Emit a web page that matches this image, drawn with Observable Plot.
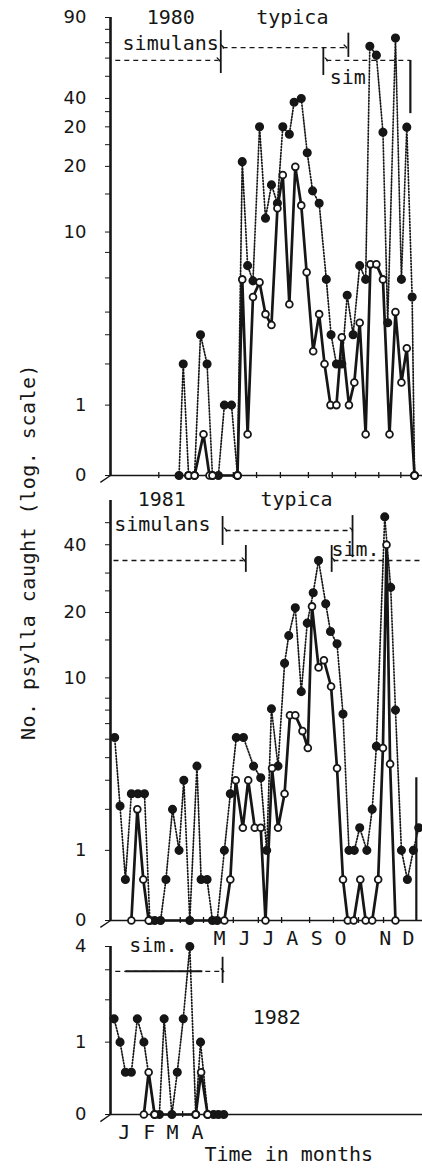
<!DOCTYPE html>
<html>
<head>
<meta charset="utf-8">
<script src="https://cdn.jsdelivr.net/npm/d3@7"></script>
<script src="https://cdn.jsdelivr.net/npm/@observablehq/plot@0.6"></script>
<style>
  html, body { margin: 0; padding: 0; background: #fff; }
  #wrap { position: relative; width: 422px; height: 1175px; overflow: hidden; background: #fff; }
  #wrap svg { position: absolute; left: 0; }
  #ytitle {
    position: absolute; left: 28px; top: 552px;
    transform: translate(-50%, -50%) rotate(-90deg);
    white-space: nowrap; font-family: "DejaVu Sans Mono", monospace;
    font-size: 20px; letter-spacing: 0.5px; color: #161616;
  }
</style>
</head>
<body>
<div id="wrap"><div id="ytitle">No. psylla caught (log. scale)</div></div>
<script>
// ---------------- DATA (weeks from start of year, psylla counts) ----------------
// 1980
const weeks80Filled = [11.5,12.2,13.1,14.1,15.1,16.2,17.1,18.1,19.1,20.3,21.3,22.1,23.0,23.9,25.0,26.0,27.0,28.0,28.9,30.0,30.8,32.0,33.0,33.9,35.0,36.2,37.0,37.9,38.8,39.7,40.7,41.8,42.8,43.5,44.6,45.7,46.5,47.8,48.8,49.7,50.6,51.0];
const vals80Filled  = [0,2,0,0,3,2,0,0,1,1,0,21,6.9,5.8,30,11.6,16.5,13.6,30,27.8,38.5,40,23,15.5,13.6,5.9,3,2,2,4.9,3,6.9,5.9,67.6,61.8,28.4,3.5,73.4,5.9,29.9,4.8,0];
const weeks80Open   = [13.1,14.1,15.6,16.6,17.1,21.3,22.1,23.0,23.9,25.0,26.0,27.0,28.0,28.9,30.0,31.0,32.0,32.9,34.0,35.0,35.9,36.9,37.9,38.8,40.0,40.9,41.8,42.8,43.6,44.6,45.7,46.8,47.8,48.8,49.7,51.0];
const vals80Open    = [0,0,0.5,0,0,0,5.9,0.5,4.8,5.7,3.9,3.4,12.9,18.3,4.4,19.9,13.3,6.4,2.4,3.9,2,1,1,2.9,1,1.5,3.5,0.5,7,7,5.9,0.5,4,1.5,2.5,0];
// 1981
const weeks81Filled = [0.7,1.6,2.5,3.5,4.6,5.7,6.6,7.4,8.4,9.3,10.4,11.5,12.3,13.3,14.5,15.2,16.2,17.1,17.9,19.1,20.1,21.1,22.3,24.0,25.2,26.2,27.0,28.1,29.2,29.9,31.0,32.0,33.0,34.0,34.9,36.1,36.9,38.0,39.0,40.0,40.9,41.8,43.0,43.9,44.6,46.0,47.0,47.8,48.8,49.8,50.8,51.7];
const vals81Filled  = [5.1,2.1,0.5,2.5,2.5,2.5,0,0,0,0.5,2,1,3,0,3.6,0.5,0.5,0,0,1,2.5,5.1,5.1,3.6,3.1,1,7.1,3.6,11.7,15.7,21,8.6,17.9,24.5,34.1,21.9,16.4,14.4,6.7,1,1,1.5,1,2,4.6,53,25.9,7,1,0.5,1,1.5];
const weeks81Open   = [3.5,4.5,5.5,6.4,19.1,20.1,21.0,22.2,23.1,24.2,25.2,26.0,27.1,28.1,29.2,30.1,31.0,32.2,33.1,33.8,34.9,35.8,37.0,38.0,39.0,39.8,40.8,41.9,42.8,43.9,44.9,45.7,46.3,46.9,47.8];
const vals81Open    = [0,2,0.5,0,0,0.5,3,1.5,3,1.5,1.5,0,3.5,1.5,2.5,6.6,6.6,5.5,4.5,21.3,11.2,12.1,9.1,3.5,0.5,0,0,0.5,0,0,0.5,4.5,40,3.7,0];
// 1982
const weeks82Filled = [0.6,1.6,2.5,3.5,4.5,5.6,7.4,8.2,9.0,10.3,11.2,12.2,13.3,14.3,15.1,16.3,17.3,18.1,19.0];
const vals82Filled  = [1.5,1,0.5,0.5,1.5,1,0,0,1.5,0,0.5,1.5,4,0,1,0,0,0,0];
const weeks82Open   = [5.6,6.4,7.4,14.3,15.2,16.3];
const vals82Open    = [0,0.5,0,0,0.5,0];

// ---------------- AXES / TICKS ----------------
const yTicks80 = [0,1,2,3,4,6,8,10,15,20,25,30,35,40,50,60,70,80,90];
const yLabelVals80 = [0,1,10,20,30,40,90];
const yLabelTxt80  = ["0","1","10","20","20","40","90"];
const yTicks81 = [0,1,2,3,4,5,6,7,8,10,15,20,25,30,40,50];
const yLabelVals81 = [0,1,10,20,40];
const yLabelTxt81  = ["0","1","10","20","40"];
const yTicks82 = [0,1,2,3,4];
const yLabelVals82 = [0,1,4];
const yLabelTxt82  = ["0","1","4"];
const xTicks80 = [8.1,12.6,16.8,20.6,24.5,28.5,33.2,37.2,41.1,45.0,48.7];
const xTicks81 = [7.2,11.7,15.6,20.6,24.8,28.7,33.4,37.4,41.6,45.8];
const xTicks82 = [12.1,16.4];
const monthWeeks81 = [18.3,22.5,26.5,30.5,34.6,38.6,46.1,50.0];
const monthNames81 = ["M","J","J","A","S","O","N","D"];
const monthWeeks82 = [2.3,6.5,10.4,14.6];
const monthNames82 = ["J","F","M","A"];

// ---------------- ANNOTATIONS (week, count) ----------------
const notes80 = [
  {x: 10.1, y: 90, t: "1980"}, {x: 30.5, y: 90, t: "typica"},
  {x: 10.1, y: 69.4, t: "simulans"}, {x: 39.8, y: 49.4, t: "sim"}
];
const arrows80 = [
  {x1: 0.8, x2: 18.1, y: 58.6, start: false, end: true},
  {x1: 18.8, x2: 39.4, y: 66.7, start: true, end: true},
  {x1: 36.2, x2: 50.3, y: 58.6, start: true, end: false}
];
const bars80 = [
  {x: 18.5, y1: 51.4, y2: 79, w: 1.8}, {x: 39.9, y1: 60.4, y2: 77, w: 1.8},
  {x: 35.7, y1: 50.4, y2: 66.7, w: 1.8}, {x: 50.3, y1: 34.3, y2: 58.6, w: 2.2}
];
const notes81 = [
  {x: 8.6, y: 63.1, t: "1981"}, {x: 31.2, y: 63.1, t: "typica"},
  {x: 8.7, y: 49.1, t: "simulans"}, {x: 41.1, y: 38.1, t: "sim."}
];
const arrows81 = [
  {x1: 19.3, x2: 40.4, y: 46.2, start: true, end: true},
  {x1: 0.5, x2: 22.3, y: 34.1, start: false, end: true},
  {x1: 37.4, x2: 52.3, y: 34.1, start: true, end: false}
];
const bars81 = [
  {x: 18.8, y1: 39.7, y2: 53.2, w: 1.8}, {x: 40.6, y1: 35.1, y2: 53.7, w: 1.8},
  {x: 22.7, y1: 30.2, y2: 39.7, w: 1.8}, {x: 37.1, y1: 30.2, y2: 39.7, w: 1.8},
  {x: 51.3, y1: 0, y2: 3.1, w: 2.2}
];
const notes82 = [
  {x: 7.2, y: 4.06, t: "sim."}, {x: 27.9, y: 1.54, t: "1982"}
];
const arrows82 = [
  {x1: 0.8, x2: 18.8, y: 2.94, start: false, end: true}
];
const bars82 = [
  {x: 18.8, y1: 2.51, y2: 3.51, w: 1.8}
];

// ---------------- DRAWING ----------------
const ink = "#161616";
const mono = "DejaVu Sans Mono";

function toRows(ws, vs) { return ws.map((w, i) => ({w, v: vs[i]})); }

function panel(cfg) {
  const F = toRows(cfg.wf, cfg.vf), O = toRows(cfg.wo, cfg.vo);
  const labMap = new Map(cfg.labVals.map((d, i) => [d, cfg.labTxt[i]]));
  const marks = [
    Plot.ruleX([0], {y1: 0, y2: cfg.axisTop, stroke: ink, strokeWidth: 2.6}),
    Plot.ruleY([0], {x1: 0, x2: 52.5, stroke: ink, strokeWidth: 1.6}),
    Plot.ruleX(cfg.xTicks, {x: d => d, y1: -0.03, y2: 0.03, stroke: ink, strokeWidth: 1.3}),
    Plot.link([0], {x1: -1.7, y1: -0.07, x2: 0, y2: 0, stroke: ink, strokeWidth: 1.4}),
    Plot.text(cfg.notes, {x: "x", y: "y", text: "t", fontFamily: mono, fontSize: 20, fill: ink}),
    Plot.ruleX(cfg.bars, {x: "x", y1: "y1", y2: "y2", stroke: ink, strokeWidth: d => d.w})
  ];
  for (const a of cfg.arrows) {
    marks.push(Plot.link([a], {x1: "x1", x2: "x2", y1: "y", y2: "y", stroke: ink, strokeWidth: 1.3,
      strokeDasharray: "5,4", markerStart: a.start ? "arrow" : "none", markerEnd: a.end ? "arrow" : "none"}));
  }
  if (cfg.solidSeg) marks.push(Plot.link([cfg.solidSeg], {x1: "x1", x2: "x2", y1: "y", y2: "y", stroke: ink, strokeWidth: 2}));
  if (cfg.months) marks.push(Plot.text(cfg.months, {x: "w", text: "m", frameAnchor: "bottom", dy: 24,
      fontFamily: mono, fontSize: 20, fill: ink}));
  if (cfg.xTitle) marks.push(Plot.text([cfg.xTitle], {x: "x", text: "t", frameAnchor: "bottom", dy: 46,
      fontFamily: mono, fontSize: 20, fill: ink}));
  marks.push(
    Plot.line(F, {x: "w", y: "v", stroke: ink, strokeWidth: 1.7, strokeDasharray: "1.2,1.8"}),
    Plot.line(O, {x: "w", y: "v", stroke: ink, strokeWidth: 2.7, strokeLinejoin: "round"}),
    Plot.dot(F, {x: "w", y: "v", r: 3.8, fill: ink, stroke: ink}),
    Plot.dot(O, {x: "w", y: "v", r: 3.4, fill: "white", stroke: ink, strokeWidth: 1.8})
  );
  const svg = Plot.plot({
    width: 422, height: cfg.height,
    marginLeft: 110, marginRight: 2, marginTop: cfg.mt, marginBottom: cfg.mb,
    style: {background: "transparent", overflow: "visible", fontFamily: "DejaVu Sans", fontSize: "18px", color: ink},
    x: {domain: [0, 52], axis: null},
    y: {type: "symlog", domain: [0, cfg.ymax], ticks: cfg.yTicks, tickFormat: d => labMap.get(d) ?? "",
        tickSize: 5, tickPadding: 19, label: null},
    marks
  });
  svg.style.top = cfg.top + "px";
  document.getElementById("wrap").appendChild(svg);
}

panel({top: 0, height: 492, mt: 17, mb: 17, ymax: 90, axisTop: 90,
  wf: weeks80Filled, vf: vals80Filled, wo: weeks80Open, vo: vals80Open,
  yTicks: yTicks80, labVals: yLabelVals80, labTxt: yLabelTxt80, xTicks: xTicks80,
  notes: notes80, arrows: arrows80, bars: bars80});

panel({top: 470, height: 490, mt: 30, mb: 40, ymax: 62.5, axisTop: 62.5,
  wf: weeks81Filled, vf: vals81Filled, wo: weeks81Open, vo: vals81Open,
  yTicks: yTicks81, labVals: yLabelVals81, labTxt: yLabelTxt81, xTicks: xTicks81,
  notes: notes81, arrows: arrows81, bars: bars81,
  months: monthWeeks81.map((w, i) => ({w, m: monthNames81[i]}))});

panel({top: 925, height: 250, mt: 21, mb: 61, ymax: 4, axisTop: 4,
  wf: weeks82Filled, vf: vals82Filled, wo: weeks82Open, vo: vals82Open,
  yTicks: yTicks82, labVals: yLabelVals82, labTxt: yLabelTxt82, xTicks: xTicks82,
  notes: notes82, arrows: arrows82, bars: bars82,
  solidSeg: {x1: 2.5, x2: 15.4, y: 2.94},
  months: monthWeeks82.map((w, i) => ({w, m: monthNames82[i]})),
  xTitle: {x: 29.9, t: "Time in months"}});
</script>
</body>
</html>
